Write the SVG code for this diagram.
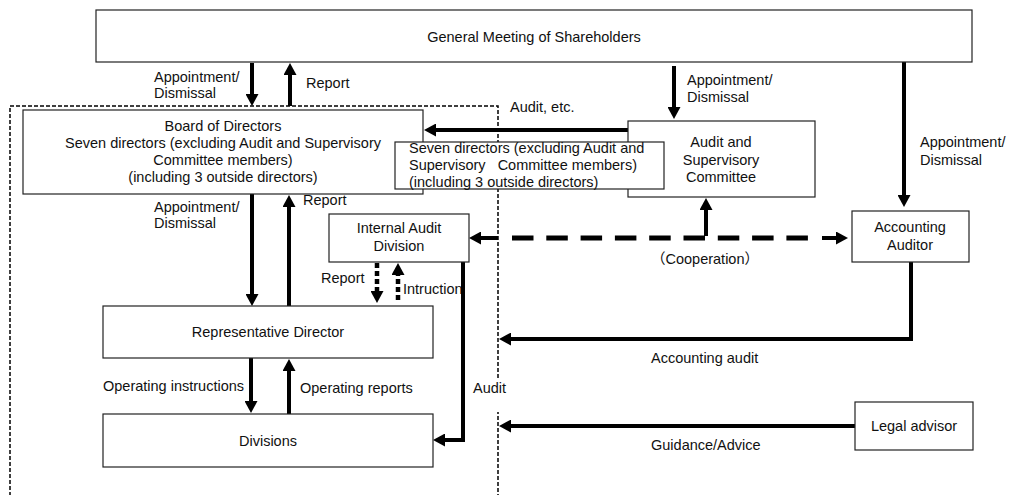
<svg xmlns="http://www.w3.org/2000/svg" width="1017" height="495" viewBox="0 0 1017 495">
<style>
.box{fill:#fff;stroke:#222;stroke-width:1.2}
.t{font-family:"Liberation Sans",Arial,sans-serif;font-size:14.5px;fill:#111}
.c{text-anchor:middle}
.ln{fill:none;stroke:#000;stroke-width:4}
.dot{fill:none;stroke:#000;stroke-width:4.5;stroke-dasharray:5 3}
.dash{fill:none;stroke:#000;stroke-width:5;stroke-dasharray:21.5 12.8}
.bound{fill:none;stroke:#000;stroke-width:1.5;stroke-dasharray:4 2}
</style>
<defs>
<marker id="ah" markerUnits="userSpaceOnUse" markerWidth="13" markerHeight="13" refX="4" refY="6.5" orient="auto">
<path d="M0,0 L12,6.5 L0,13 z" fill="#000"/>
</marker>
</defs>
<rect width="1017" height="495" fill="#fff"/>
<rect id="boundary" class="bound" x="10" y="106" width="488" height="400"/>
<g id="labels">
<text class="t" x="154" y="82">Appointment/</text>
<text class="t" x="154" y="98">Dismissal</text>
<text class="t" x="306" y="88">Report</text>
<text class="t" x="687" y="85">Appointment/</text>
<text class="t" x="687" y="102">Dismissal</text>
<text class="t" x="510" y="112">Audit, etc.</text>
<text class="t" x="920" y="147">Appointment/</text>
<text class="t" x="920" y="165">Dismissal</text>
<text class="t" x="154" y="212">Appointment/</text>
<text class="t" x="154" y="228">Dismissal</text>
<text class="t" x="303" y="205">Report</text>
<text class="t" x="321" y="283">Report</text>
<text class="t" x="403" y="294">Intruction</text>
<text class="t" x="651" y="264" style="font-family:'Liberation Sans','Noto Sans CJK JP',sans-serif">（Cooperation）</text>
<text class="t" x="103" y="391">Operating instructions</text>
<text class="t" x="300" y="393">Operating reports</text>
<rect x="468" y="379" width="44" height="33" fill="#fff"/>
<text class="t" x="473" y="393">Audit</text>
<text class="t" x="651" y="363">Accounting audit</text>
<text class="t" x="651" y="450">Guidance/Advice</text>
</g>
<g id="connectors">
<path class="ln" d="M252,63 V98" marker-end="url(#ah)"/>
<path class="ln" d="M290,106 V71" marker-end="url(#ah)"/>
<path class="ln" d="M674,66 V111" marker-end="url(#ah)"/>
<path class="ln" d="M904,62 V199" marker-end="url(#ah)"/>
<path class="ln" d="M628,130 H432" marker-end="url(#ah)"/>
<path class="ln" d="M252,194 V298" marker-end="url(#ah)"/>
<path class="ln" d="M289,306 V203" marker-end="url(#ah)"/>
<path class="dot" d="M377,263 V295" marker-end="url(#ah)"/>
<path class="dot" d="M398,300 V271" marker-end="url(#ah)"/>
<path class="ln" d="M463,262 V440 H441" marker-end="url(#ah)"/>
<path class="ln" d="M251,358 V405" marker-end="url(#ah)"/>
<path class="ln" d="M289,414 V367" marker-end="url(#ah)"/>
<path class="dash" d="M512,238 H810"/>
<path class="ln" d="M498,238 H477" marker-end="url(#ah)"/>
<path class="ln" d="M822,238 H840" marker-end="url(#ah)"/>
<path class="ln" d="M706,236 V206" marker-end="url(#ah)"/>
<path class="ln" d="M911,262 V339 H507" marker-end="url(#ah)"/>
<path class="ln" d="M855,426 H507" marker-end="url(#ah)"/>
</g>
<g id="gm">
<rect class="box" x="96" y="10" width="876" height="52"/>
<text class="t c" x="534" y="42">General Meeting of Shareholders</text>
</g>
<g id="board">
<rect class="box" x="23" y="110" width="400" height="84"/>
<text class="t c" x="223" y="131">Board of Directors</text>
<text class="t c" x="223" y="148">Seven directors (excluding Audit and Supervisory</text>
<text class="t c" x="223" y="165">Committee members)</text>
<text class="t c" x="223" y="182">(including 3 outside directors)</text>
</g>
<g id="audit-committee">
<rect class="box" x="628" y="121" width="187" height="76"/>
<text class="t c" x="721" y="147">Audit and</text>
<text class="t c" x="721" y="165">Supervisory</text>
<text class="t c" x="721" y="182">Committee</text>
</g>
<g id="seven-directors">
<rect class="box" x="395" y="142" width="269" height="47"/>
<text class="t" x="409" y="153" style="white-space:pre">Seven directors (excluding Audit and</text>
<text class="t" x="409" y="170" style="white-space:pre">Supervisory   Committee members)</text>
<text class="t" x="409" y="187" style="white-space:pre">(including 3 outside directors)</text>
</g>
<g id="accounting-auditor">
<rect class="box" x="852" y="211" width="117" height="51"/>
<text class="t c" x="910" y="232">Accounting</text>
<text class="t c" x="910" y="250">Auditor</text>
</g>
<g id="internal-audit">
<rect class="box" x="329" y="214" width="140" height="48"/>
<text class="t c" x="399" y="233">Internal Audit</text>
<text class="t c" x="399" y="251">Division</text>
</g>
<g id="rep-director">
<rect class="box" x="103" y="306" width="330" height="52"/>
<text class="t c" x="268" y="337">Representative Director</text>
</g>
<g id="divisions">
<rect class="box" x="103" y="414" width="330" height="53"/>
<text class="t c" x="268" y="446">Divisions</text>
</g>
<g id="legal-advisor">
<rect class="box" x="855" y="402" width="118" height="48"/>
<text class="t c" x="914" y="431">Legal advisor</text>
</g>
</svg>
